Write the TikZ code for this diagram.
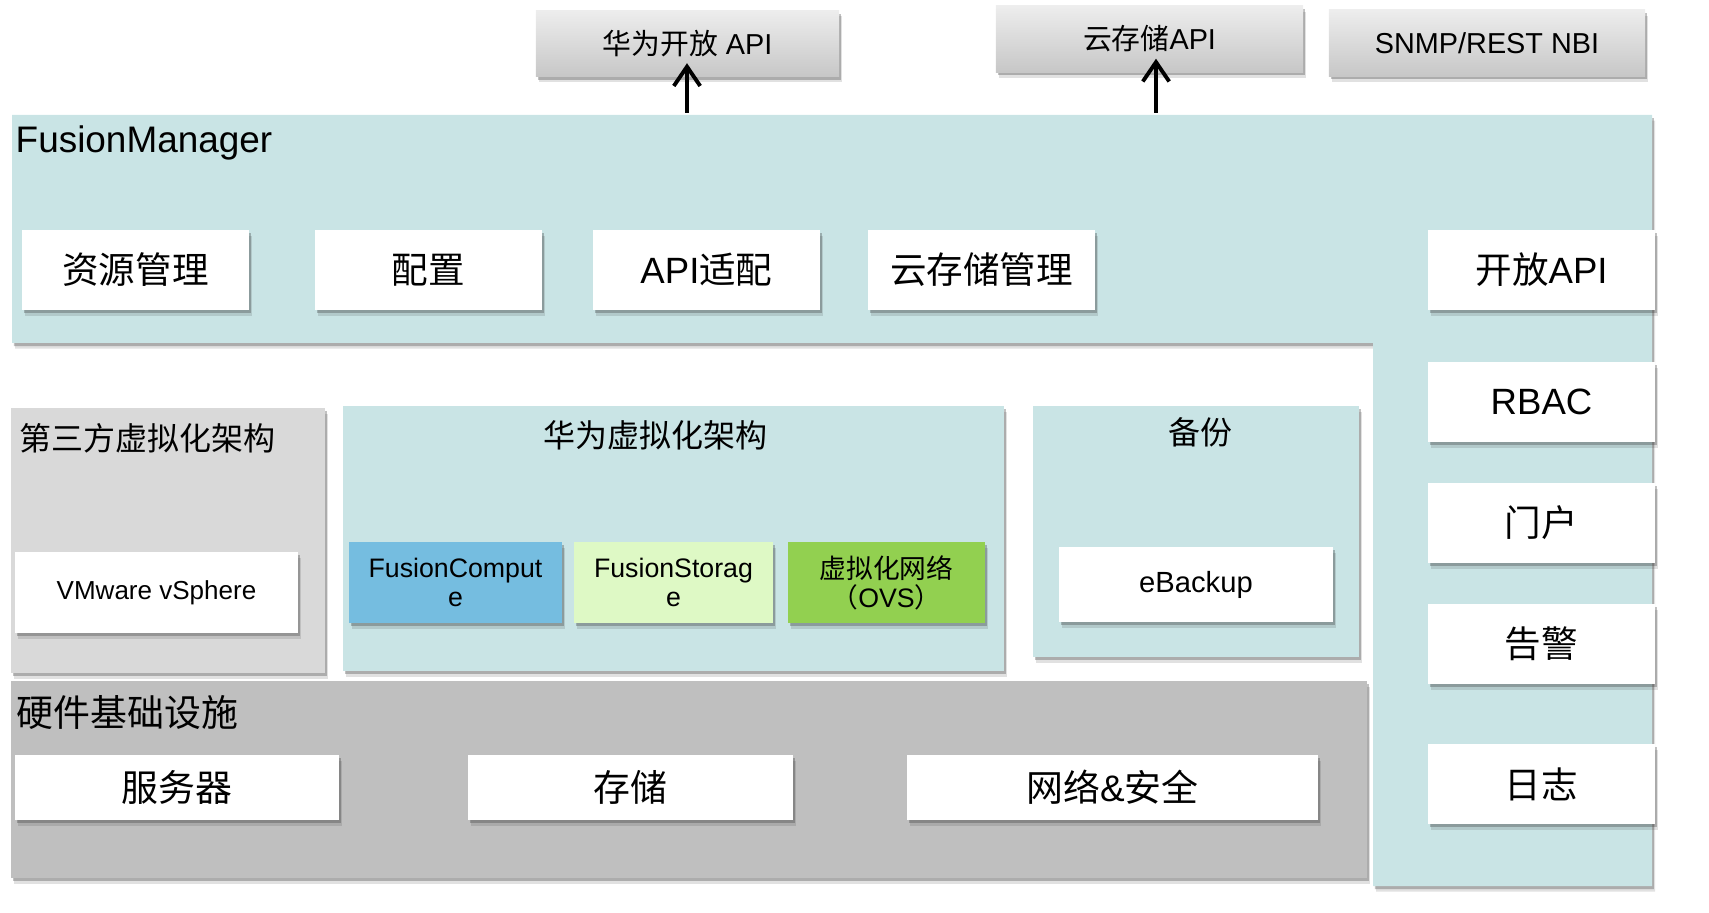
\documentclass[tikz,border=0pt]{standalone}
\usepackage{fontspec}
\setmainfont{Liberation Sans}
\newfontfamily\cjk{Noto Sans CJK SC}
\usetikzlibrary{arrows.meta,shadows}
\definecolor{fmteal}{RGB}{201,228,229}
\definecolor{thirdgray}{RGB}{217,217,217}
\definecolor{infragray}{RGB}{191,191,191}
\definecolor{fcblue}{RGB}{117,189,224}
\definecolor{fsgreen}{RGB}{222,249,197}
\definecolor{ovsgreen}{RGB}{146,208,80}

\begin{document}
\begin{tikzpicture}[x=0.01cm, y=-0.01cm,
  every node/.style={inner sep=0pt},
  boxshadow/.style={drop shadow={shadow xshift=0.9pt, shadow yshift=-1.6pt, opacity=0.15, fill=black!80},
                    drop shadow={shadow xshift=0.5pt, shadow yshift=-0.9pt, opacity=0.3, fill=black!80}},
  box/.style={fill=white, boxshadow, minimum width=2.27cm, minimum height=0.8cm, font=\fontsize{10.4pt}{12pt}\selectfont},
  apibox/.style={top color=black!7, bottom color=black!22, boxshadow, minimum height=0.66cm, font=\fontsize{8.2pt}{10pt}\selectfont},
  hwbox/.style={boxshadow, minimum width=2cm, minimum height=0.81cm, align=center, font=\fontsize{7.6pt}{8.3pt}\selectfont},
  infrabox/.style={fill=white, boxshadow, minimum height=0.65cm, font=\fontsize{10.5pt}{12pt}\selectfont\cjk},
  title/.style={font=\fontsize{9.1pt}{11pt}\selectfont\cjk},
  arrow/.style={line width=1.1pt, -{Straight Barb[length=5.5pt,width=7.5pt]}}]
\useasboundingbox (0,0) rectangle (1709,913);

% areas
\fill[fmteal, boxshadow] (12,115) -- (1652,115) -- (1652,886) -- (1373,886) -- (1373,343) -- (12,343) -- cycle;
\fill[thirdgray, boxshadow] (11,408) rectangle (325,673);
\fill[fmteal, boxshadow] (343,406) rectangle (1004,671);
\fill[fmteal, boxshadow] (1033,406) rectangle (1359,657);
\fill[infragray, boxshadow] (11,681) rectangle (1367,878);

% northbound
\node[apibox, minimum width=3.03cm] (hwapi) at (687.5,43.5) {{\cjk 华为开放} API};
\node[apibox, minimum width=3.07cm] (cloudapi) at (1149.5,39) {{\cjk 云存储}API};
\node[apibox, minimum width=3.16cm] (snmp) at (1487,43) {SNMP/REST NBI};

% FusionManager
\node[anchor=base west, font=\fontsize{10.5pt}{12pt}\selectfont] (fmtitle) at (15,153) {FusionManager};
\node[box] (res) at (135.5,270) {\cjk 资源管理};
\node[box] (conf) at (428.5,270) {\cjk 配置};
\node[box] (apiadapt) at (706.5,270) {API{\cjk 适配}};
\node[box] (cloudmgmt) at (981.5,270) {\cjk 云存储管理};
\node[box] (openapi) at (1541.5,270) {{\cjk 开放}API};
\node[box] (rbac) at (1541.5,402) {RBAC};
\node[box] (portal) at (1541.5,523) {\cjk 门户};
\node[box] (alarm) at (1541.5,644) {\cjk 告警};
\node[box] (log) at (1541.5,784) {\cjk 日志};

\coordinate (up1) at (687,113);
\coordinate (up2) at (1156,113);
\draw[arrow] (up1) -- ([yshift=1.4mm]up1 |- hwapi.south);
\draw[arrow] (up2) -- ([yshift=1.4mm]up2 |- cloudapi.south);

% virtualisation
\node[title, anchor=west] (thirdtitle) at (19,438) {第三方虚拟化架构};
\node[fill=white, boxshadow, minimum width=2.83cm, minimum height=0.81cm, font=\fontsize{7.4pt}{9pt}\selectfont] (vmware) at (156.5,592.5) {VMware vSphere};

\node[title] (hwtitle) at (655,435) {华为虚拟化架构};
\node[hwbox, fill=fcblue, minimum width=2.13cm] (fc) at (455.5,582.5) {FusionComput\\e};
\node[hwbox, fill=fsgreen, minimum width=1.99cm] (fs) at (673.5,582.5) {FusionStorag\\e};
\node[hwbox, fill=ovsgreen, minimum width=1.97cm] (ovs) at (886.5,582.5) {{\cjk 虚拟化网络}\\{\cjk （}OVS{\cjk ）}};

\node[title] (baktitle) at (1200,432) {备份};
\node[fill=white, boxshadow, minimum width=2.74cm, minimum height=0.75cm, font=\fontsize{8.3pt}{10pt}\selectfont] (ebackup) at (1196,584.5) {eBackup};

% hardware
\node[anchor=west, font=\fontsize{10.5pt}{12pt}\selectfont\cjk] (hwinfra) at (16,713) {硬件基础设施};
\node[infrabox, minimum width=3.24cm] (server) at (177,787.5) {服务器};
\node[infrabox, minimum width=3.25cm] (storage) at (630.5,787.5) {存储};
\node[infrabox, minimum width=4.11cm] (netsec) at (1112.5,787.5) {网络{\fontspec{Liberation Sans}\&}安全};
\end{tikzpicture}
\end{document}
